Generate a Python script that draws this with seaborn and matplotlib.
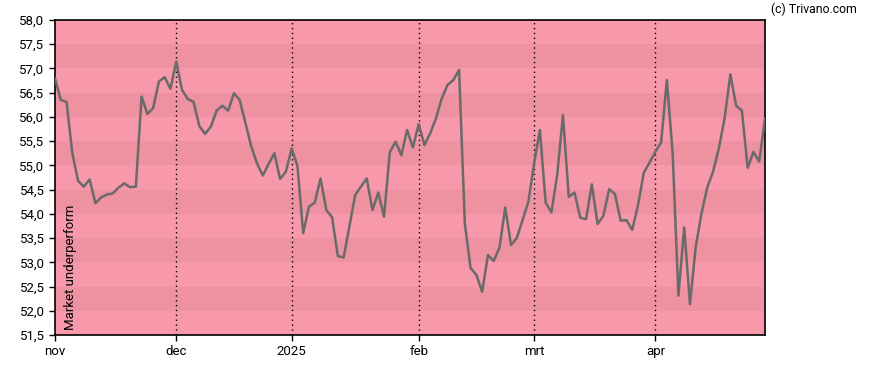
import matplotlib
matplotlib.use("Agg")
import matplotlib.pyplot as plt
import seaborn as sns
import pandas as pd
import numpy as np

# Data (trading-day index)
values = [
    56.80, 56.35, 56.31, 55.25, 54.68, 54.56, 54.71, 54.22, 54.34, 54.40,
    54.42, 54.54, 54.63, 54.55, 54.56, 56.42, 56.06, 56.18, 56.73, 56.82,
    56.58, 57.14, 56.56, 56.37, 56.31, 55.81, 55.65, 55.80, 56.13, 56.23,
    56.13, 56.49, 56.35, 55.87, 55.39, 55.04, 54.79, 55.03, 55.25, 54.72,
    54.87, 55.35, 54.99, 53.60, 54.15, 54.23, 54.73, 54.08, 53.93, 53.13,
    53.10, 53.74, 54.39, 54.56, 54.73, 54.08, 54.44, 53.94, 55.27, 55.49,
    55.21, 55.73, 55.37, 55.85, 55.42, 55.66, 55.97, 56.38, 56.66, 56.76,
    56.97, 53.80, 52.88, 52.74, 52.39, 53.15, 53.03, 53.30, 54.13, 53.36,
    53.50, 53.87, 54.25, 55.04, 55.73, 54.23, 54.03, 54.80, 56.04, 54.35,
    54.44, 53.92, 53.89, 54.61, 53.79, 53.96, 54.51, 54.41, 53.86, 53.87,
    53.67, 54.18, 54.85, 55.06, 55.28, 55.47, 56.76, 55.25, 52.31, 53.72,
    52.14, 53.32, 54.01, 54.55, 54.87, 55.35, 55.97, 56.88, 56.23, 56.13,
    54.95, 55.28, 55.08, 55.97,
]
month_labels = ["nov", "dec", "2025", "feb", "mrt", "apr"]
month_index = [0, 21, 41, 63, 83, 104]
y_ticks = [51.5, 52.0, 52.5, 53.0, 53.5, 54.0, 54.5, 55.0, 55.5, 56.0, 56.5, 57.0, 57.5, 58.0]

df = pd.DataFrame({"day": np.arange(len(values)), "value": values})

sns.set_style("ticks")
plt.rcParams["font.family"] = ["Roboto", "DejaVu Sans"]

fig = plt.figure(figsize=(8.88, 3.70), dpi=100)
ax = fig.add_axes([55 / 888, 1 - 335 / 370, (765 - 55) / 888, (335 - 20) / 370])

light = "#F799AA"
dark = "#EE91A1"
ax.set_facecolor(light)
for i in range(len(y_ticks) - 1):
    lo, hi = y_ticks[i], y_ticks[i + 1]
    ax.axhspan(lo, hi, color=(dark if i % 2 == 1 else light), lw=0, zorder=0)

for idx in month_index[1:]:
    ax.axvline(idx, color="black", lw=1.0, ls=(0, (1, 2.5)), zorder=1)

sns.lineplot(data=df, x="day", y="value", ax=ax, color="#6a6a6a", lw=1.8, zorder=3)

ax.set_xlim(0, len(values) - 1)
ax.set_ylim(51.5, 58.0)
ax.set_xticks(month_index)
ax.set_xticklabels(month_labels)
ax.set_yticks(y_ticks)
ax.set_yticklabels([f"{v:.1f}".replace(".", ",") for v in y_ticks])
ax.tick_params(axis="both", labelsize=9.5, length=4, width=1, colors="black", direction="out")
ax.set_xlabel("")
ax.set_ylabel("")
for s in ax.spines.values():
    s.set_visible(True)
    s.set_color("black")
    s.set_linewidth(1.2)

ax.text(0.012, 0.015, "Market underperform", rotation=90, transform=ax.transAxes,
        ha="left", va="bottom", fontsize=9.5, color="black", zorder=4)
fig.text(857 / 888, 1 - 9 / 370, "(c) Trivano.com", ha="right", va="center", fontsize=8.8, color="black")

fig.savefig("out.png", dpi=100)
